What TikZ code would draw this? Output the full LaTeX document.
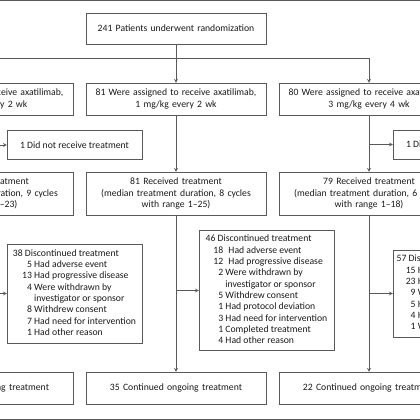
\documentclass[tikz,border=0pt]{standalone}
\usepackage{fontspec}
\setmainfont{Carlito}
\usetikzlibrary{shapes.geometric, arrows, positioning, calc}
\definecolor{linegray}{gray}{0.35}
\definecolor{textgray}{gray}{0.1}
\tikzstyle{arm} = [rectangle, minimum width=180pt, minimum height=32pt, text width=172pt, align=center, draw=linegray, text=textgray, inner sep=2pt]
\tikzstyle{received} = [arm, minimum height=43pt]
\tikzstyle{side} = [rectangle, minimum width=135pt, minimum height=29pt, align=center, draw=linegray, text=textgray]
\tikzstyle{reasons} = [rectangle, minimum width=135pt, align=left, draw=linegray, text=textgray, inner xsep=3pt]
\tikzstyle{arrow} = [linegray, line width=0.7pt, ->, >=stealth]
\newcommand{\reasonlist}[3][0.95em]{\begin{tabular}{@{\hspace{#1}}r@{\ }l@{}}\multicolumn{2}{@{}l@{}}{#2}\\#3\end{tabular}}

\begin{document}
\begin{tikzpicture}[node distance=193pt, x=1pt, y=1pt, font=\fontsize{9.7}{11.3}\selectfont]
    \useasboundingbox (0,0) rectangle (420,-420);
    \clip (0,0) rectangle (420,-420);

        \draw [linegray, line width=0.8pt] (0,-0.4) -- (420,-0.4);
        \draw [linegray, line width=0.8pt] (0,-419.3) -- (420,-419.3);

        \node (rand) [arm, minimum height=31pt] at (176,-28.5) {241 Patients underwent randomization};
        \node (armB) [arm, below of=rand, node distance=70.5pt] {81 Were assigned to receive axatilimab,\\1 mg/kg every 2 wk};
        \node (armA) [arm, left of=armB] {80 Were assigned to receive axatilimab,\\0.3 mg/kg every 2 wk};
        \node (armC) [arm, right of=armB] {80 Were assigned to receive axatilimab,\\3 mg/kg every 4 wk};

        \node (noTxA) [side, below of=armA, node distance=46pt, xshift=91.5pt] {1 Did not receive treatment};
        \node (noTxC) [side, below of=armC, node distance=45.5pt, xshift=91.5pt] {1 Did not receive treatment};

        \node (recB) [received, below of=armB, node distance=94.5pt] {81 Received treatment\\(median treatment duration, 8 cycles\\with range 1--25)};
        \node (recA) [received, left of=recB] {79 Received treatment\\(median treatment duration, 9 cycles\\with range 1--23)};
        \node (recC) [received, right of=recB] {79 Received treatment\\(median treatment duration, 6 cycles\\with range 1--18)};

        \node (discA) [reasons, minimum height=99pt, below of=recA, node distance=100pt, xshift=91.5pt] {\reasonlist{38 Discontinued treatment}{5 & Had adverse event\\13 & Had progressive disease\\4 & Were withdrawn by\\ & investigator or sponsor\\8 & Withdrew consent\\7 & Had need for intervention\\1 & Had other reason}};
        \node (discB) [reasons, minimum height=119pt, inner xsep=1.5pt, below of=recB, node distance=97pt, xshift=90.5pt] {\reasonlist[0.8em]{46 Discontinued treatment}{18 & \hspace{3pt}Had adverse event\\12 & \hspace{3pt}Had progressive disease\\2 & Were withdrawn by\\ & investigator or sponsor\\5 & Withdrew consent\\1 & Had protocol deviation\\3 & Had need for intervention\\1 & Completed treatment\\4 & Had other reason}};
        \node (discC) [reasons, minimum height=87pt, below of=recC, node distance=100pt, xshift=91.5pt] {\reasonlist{57 Discontinued treatment}{15 & Had adverse event\\23 & Had progressive disease\\9 & Withdrew consent\\5 & Had need for intervention\\4 & Had other reason\\1 & Was withdrawn by sponsor}};

        \node (ongoB) [arm, below of=recB, node distance=194.5pt] {35 Continued ongoing treatment};
        \node (ongoA) [arm, left of=ongoB] {41 Continued ongoing treatment};
        \node (ongoC) [arm, right of=ongoB] {22 Continued ongoing treatment};

        \coordinate (split) at ($(rand.south)+(0,-14)$);
        \draw [arrow] (rand) -- (armB);
        \draw [linegray, line width=0.7pt] (split -| armA) -- (split -| armC);
        \draw [arrow] (split -| armA) -- (armA);
        \draw [arrow] (split -| armC) -- (armC);

        \draw [arrow] (armA) -- (recA);
        \draw [arrow] (armB) -- (recB);
        \draw [arrow] (armC) -- (recC);
        \draw [arrow] (noTxA -| armA) -- (noTxA);
        \draw [arrow] (noTxC -| armC) -- (noTxC);

        \draw [arrow] (recA) -- (ongoA);
        \draw [arrow] (recB) -- (ongoB);
        \draw [arrow] (recC) -- (ongoC);
        \draw [arrow] (discA -| recA) -- (discA);
        \draw [arrow] (discB -| recB) -- (discB);
        \draw [arrow] (discC -| recC) -- (discC);

    \end{tikzpicture}
\end{document}
